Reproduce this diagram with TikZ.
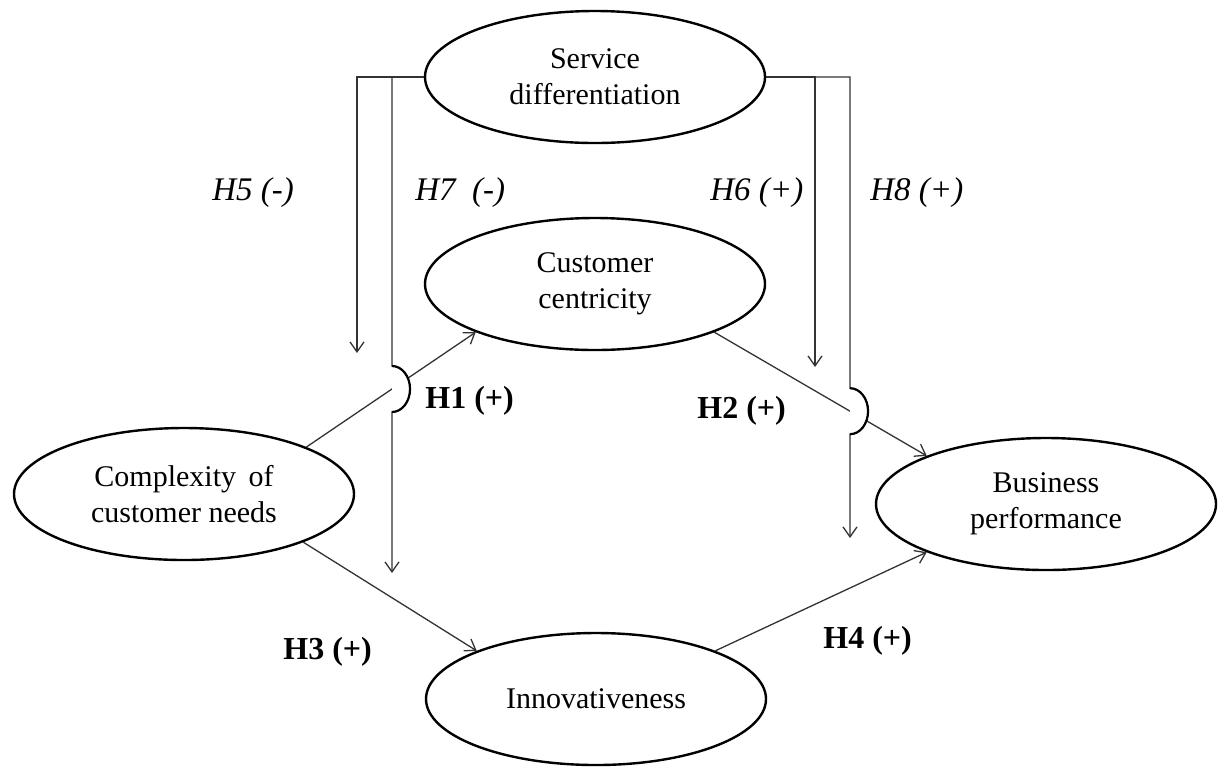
\documentclass[tikz,border=0pt]{standalone}
\usepackage{fontspec}
\setmainfont{Liberation Serif}
\usetikzlibrary{shapes,arrows.meta}

\begin{document}
\begin{tikzpicture}[x=0.5pt, y=-0.5pt]
\tikzstyle{vertexe}=[ellipse, draw=black, line width=1.2pt, minimum width=170pt, minimum height=66pt, inner sep=0pt, align=center, font=\fontsize{15}{18}\selectfont]
\tikzstyle{drawstyle}=[line width=0.65pt, draw=black!80, -{Straight Barb[length=5pt,width=7pt]}]
\tikzstyle{hypb}=[anchor=base west, inner sep=0pt, font=\fontsize{16}{19}\selectfont\bfseries]
\tikzstyle{hypi}=[anchor=base west, inner sep=0pt, font=\fontsize{16.5}{19}\selectfont\itshape]
\tikzstyle{bump}=[line width=1.1pt, draw=black]

\useasboundingbox (0,0) rectangle (1218,767);

\node[vertexe] (srv) at (595,77) {Service\\differentiation};
\node[vertexe] (cust) at (595,284) {Customer\\centricity};
\node[vertexe] (cplx) at (184,494) {Complexity\hspace{2.5pt} of\\customer needs};
\node[vertexe] (bus) at (1046,504) {Business\\performance};
\node[vertexe] (innov) at (596,699) {Innovativeness};

% main paths
\draw[drawstyle] (cplx.21) -- (cust.202);
\draw[drawstyle] (cust.338.7) -- (bus.158.8);
\draw[drawstyle] (cplx.338.3) -- (innov.158.3);
\draw[drawstyle] (innov.22) -- (bus.202);

% moderating paths
\coordinate (h5end) at (357,353);
\coordinate (h7top) at (392,77);
\coordinate (h7end) at (392,573);
\coordinate (h6end) at (815,367);
\coordinate (h8top) at (850,77);
\coordinate (h8end) at (850,538);
\coordinate (a1) at (cplx.21);
\coordinate (b1) at (cust.202);
\coordinate (a2) at (cust.338.7);
\coordinate (b2) at (bus.158.8);
\coordinate (j1) at (intersection of a1--b1 and h7top--h7end);
\coordinate (j2) at (intersection of a2--b2 and h8top--h8end);

\fill[white] ([yshift=11.5pt]j1) arc[start angle=90, end angle=-90, x radius=9pt, y radius=11.5pt] -- cycle;
\fill[white] ([yshift=11.5pt]j2) arc[start angle=90, end angle=-90, x radius=9pt, y radius=11.5pt] -- cycle;

\draw[drawstyle] (srv.west) -| (h5end);
\draw[drawstyle] (srv.west) -| ([yshift=11.5pt]j1) arc[start angle=90, end angle=-90, x radius=9pt, y radius=11.5pt] -- (h7end);
\draw[drawstyle] (srv.east) -| (h6end);
\draw[drawstyle] (srv.east) -| ([yshift=11.5pt]j2) arc[start angle=90, end angle=-90, x radius=9pt, y radius=11.5pt] -- (h8end);
\draw[bump] ([yshift=11.5pt]j1) arc[start angle=90, end angle=-90, x radius=9pt, y radius=11.5pt];
\draw[bump] ([yshift=11.5pt]j2) arc[start angle=90, end angle=-90, x radius=9pt, y radius=11.5pt];

% labels
\node[hypi] (l5) at (212,200) {H5 (-)};
\node[hypi] (l7) at (415,200) {H7\ \ (-)};
\node[hypi] (l6) at (710,200) {H6 (+)};
\node[hypi] (l8) at (870,200) {H8 (+)};
\node[hypb] (l1) at (425,408) {H1 (+)};
\node[hypb] (l2) at (697,418) {H2 (+)};
\node[hypb] (l3) at (283,659) {H3 (+)};
\node[hypb] (l4) at (823,648) {H4 (+)};
\end{tikzpicture}
\end{document}
